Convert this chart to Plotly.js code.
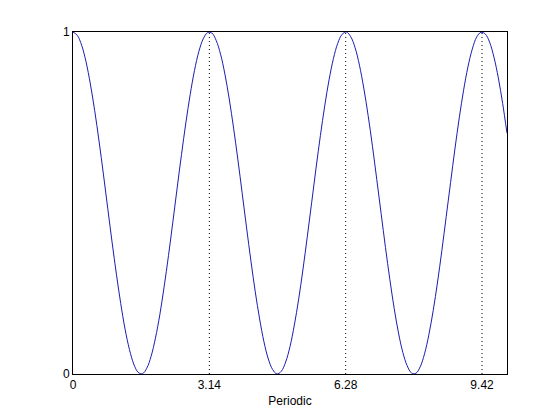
<!DOCTYPE html>
<html>
<head>
<meta charset="utf-8">
<script src="https://cdn.plot.ly/plotly-3.0.1.min.js"></script>
<style>html,body{margin:0;padding:0;background:#fff;}#chart{width:560px;height:420px;}</style>
</head>
<body>
<div id="chart"></div>
<script>
var xValues = [0.0,0.1,0.2,0.3,0.4,0.5,0.6,0.7,0.8,0.9,
1.0,1.1,1.2,1.3,1.4,1.5,1.6,1.7,1.8,1.9,
2.0,2.1,2.2,2.3,2.4,2.5,2.6,2.7,2.8,2.9,
3.0,3.1,3.2,3.3,3.4,3.5,3.6,3.7,3.8,3.9,
4.0,4.1,4.2,4.3,4.4,4.5,4.6,4.7,4.8,4.9,
5.0,5.1,5.2,5.3,5.4,5.5,5.6,5.7,5.8,5.9,
6.0,6.1,6.2,6.3,6.4,6.5,6.6,6.7,6.8,6.9,
7.0,7.1,7.2,7.3,7.4,7.5,7.6,7.7,7.8,7.9,
8.0,8.1,8.2,8.3,8.4,8.5,8.6,8.7,8.8,8.9,
9.0,9.1,9.2,9.3,9.4,9.5,9.6,9.7,9.8,9.9,
10.0];
var yValues = [1.000,0.990,0.961,0.913,0.848,0.770,0.681,0.585,0.485,0.386,
0.292,0.206,0.131,0.072,0.029,0.005,0.001,0.017,0.052,0.105,
0.173,0.255,0.346,0.444,0.544,0.642,0.734,0.817,0.888,0.943,
0.980,0.998,0.997,0.975,0.935,0.877,0.804,0.719,0.626,0.527,
0.427,0.330,0.240,0.161,0.094,0.044,0.013,0.000,0.008,0.035,
0.080,0.143,0.219,0.307,0.403,0.502,0.602,0.697,0.784,0.860,
0.922,0.967,0.993,1.000,0.986,0.954,0.903,0.836,0.756,0.666,
0.568,0.469,0.370,0.277,0.192,0.120,0.063,0.024,0.003,0.002,
0.021,0.059,0.115,0.186,0.269,0.362,0.461,0.560,0.658,0.749,
0.830,0.898,0.950,0.985,0.999,0.994,0.970,0.926,0.866,0.791,
0.704];
var peakX = [3.14159, 6.28319, 9.42478];
var peakLow = 0, peakHigh = 1;
var xTickVals = [0, 3.14159, 6.28319, 9.42478];
var xTickText = ['0', '3.14', '6.28', '9.42'];
var yTickVals = [0, 1];
var yTickText = ['0', '1'];

var traces = [];
peakX.forEach(function(p){
  traces.push({x:[p,p], y:[peakLow,peakHigh], mode:'lines', type:'scatter',
    line:{color:'#000', width:1, dash:'1px,3px'}, hoverinfo:'skip', showlegend:false});
});
traces.push({x:xValues, y:yValues, mode:'lines', type:'scatter',
  line:{color:'#1c1cb0', width:1, shape:'spline', smoothing:1}, showlegend:false});

var fnt = {family:'Liberation Sans, Arial, sans-serif', size:12, color:'#000'};
var layout = {
  width:560, height:420,
  margin:{l:73, r:53, t:32, b:46, pad:0},
  paper_bgcolor:'#fff', plot_bgcolor:'#fff',
  showlegend:false,
  font:fnt,
  xaxis:{range:[0,10], tickvals:xTickVals, ticktext:xTickText, showgrid:false, zeroline:false,
    showline:true, mirror:true, linecolor:'#000', linewidth:1, ticks:'', tickfont:fnt,
    title:{text:'Periodic', font:fnt, standoff:5}},
  yaxis:{range:[0,1], tickvals:yTickVals, ticktext:yTickText, showgrid:false, zeroline:false,
    showline:true, mirror:true, linecolor:'#000', linewidth:1, ticks:'', tickfont:fnt}
};
Plotly.newPlot('chart', traces, layout, {displayModeBar:false, staticPlot:true});
</script>
</body>
</html>
